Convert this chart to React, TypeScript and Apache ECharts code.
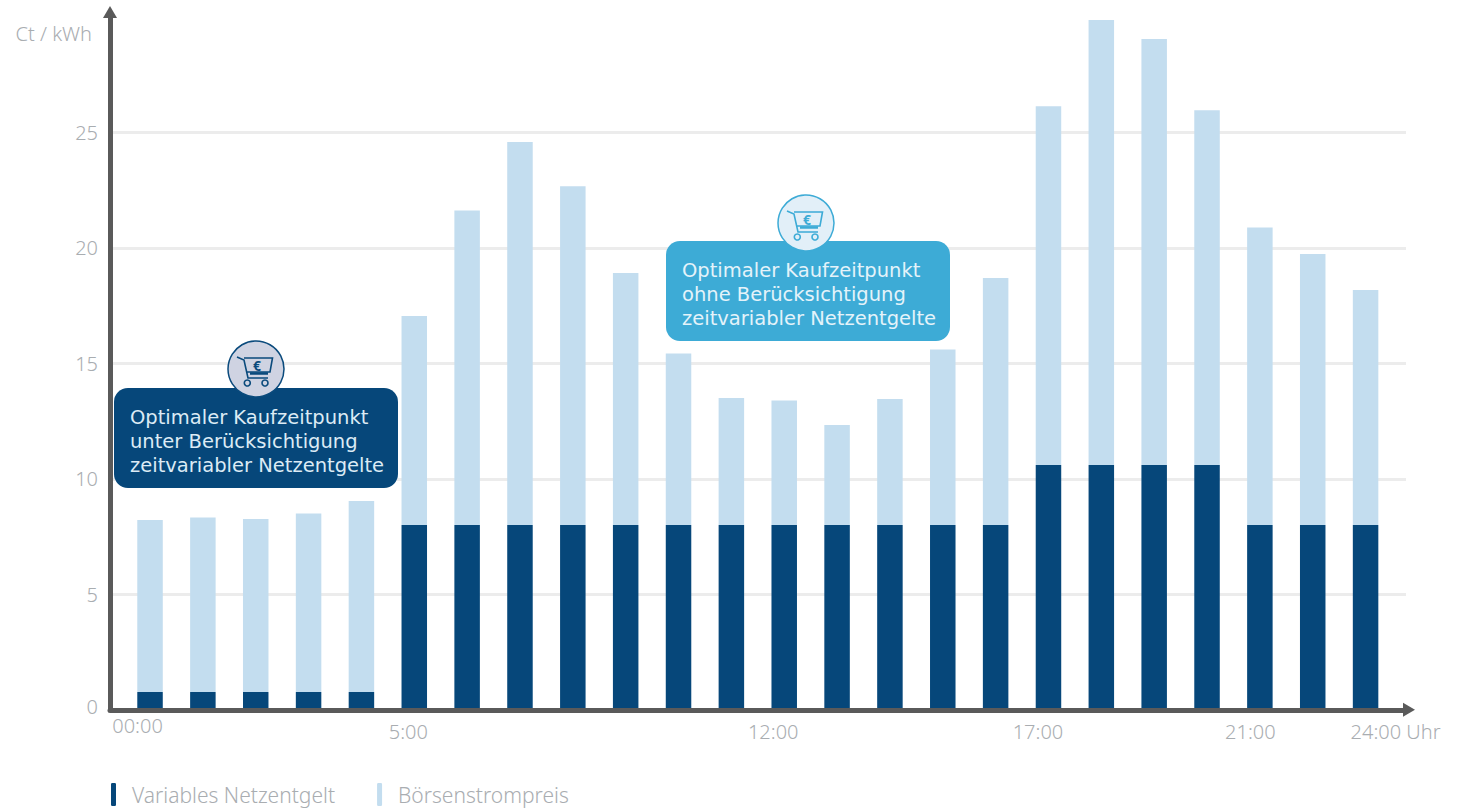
import React, { useEffect, useRef } from "react";
import * as echarts from "echarts";

const hours = ["00:00","","","","","5:00","","","","","","","12:00","","","","","17:00","","","","21:00","","24:00 Uhr"];
const netzentgelt = [0.77,0.77,0.77,0.77,0.77,8,8,8,8,8,8,8,8,8,8,8,8,10.6,10.6,10.6,10.6,8,8,8];
const boersenpreis = [7.45,7.56,7.49,7.73,8.27,9.05,13.62,16.59,14.67,10.91,7.43,5.5,5.39,4.33,5.46,7.6,10.7,15.54,19.27,18.45,15.36,12.89,11.74,10.18];
const seriesNames = ["Variables Netzentgelt", "Börsenstrompreis"];
const yAxisName = "Ct / kWh";
const calloutDark = ["Optimaler Kaufzeitpunkt", "unter Berücksichtigung", "zeitvariabler Netzentgelte"];
const calloutLight = ["Optimaler Kaufzeitpunkt", "ohne Berücksichtigung", "zeitvariabler Netzentgelte"];

const FONT = "Noto Sans";
const CALLOUT_FONT = "DejaVu Sans";
const GREY = "#a9adb1";
const DARK = "#06477a";
const LIGHT = "#c3ddef";
const CYAN = "#3dabd6";
const AXIS_SIZE = 20;

const labelOffsets: Record<string, { left: number; right: number; top: number }> = {
  a: { left: 0, right: 25, top: 0 },
  b: { left: 0, right: 12, top: 6 },
  c: { left: 0, right: 22, top: 6 },
  d: { left: 0, right: 21, top: 6 },
  e: { left: 0, right: 19, top: 6 },
  f: { left: 60, right: 0, top: 6 },
};
const labelKeys: Record<number, string> = { 0: "a", 5: "b", 12: "c", 17: "d", 21: "e", 23: "f" };

echarts.graphic.registerShape(
  "cartBody",
  echarts.graphic.extendPath(
    "M-19 -12 L-12 -9 L-8 9 L12 9 M-12 -11 L16.5 -11 L14 3 L-8.7 3",
    {}
  )
);

function callout(x: number, y: number, lines: string[], bg: string, textColor: string) {
  return {
    type: "group",
    x,
    y,
    children: [
      { type: "rect", z: 20, shape: { x: 0, y: 0, width: 284, height: 100, r: 14 }, style: { fill: bg } },
      {
        type: "text",
        z: 21,
        x: 16,
        y: 17,
        style: { text: lines.join("\n"), fill: textColor, font: `19.5px "${CALLOUT_FONT}"`, lineHeight: 24 },
      },
    ],
  };
}

function cart(x: number, y: number, fill: string, stroke: string) {
  const line = { stroke, fill: "none", lineWidth: 1.6 };
  return {
    type: "group",
    x,
    y,
    children: [
      { type: "circle", z: 22, shape: { cx: 0, cy: 0, r: 28 }, style: { fill, stroke, lineWidth: 1.5 } },
      { type: "cartBody", z: 23, style: line },
      { type: "line", z: 23, shape: { x1: -6, y1: 4.5, x2: 12, y2: 4.5 }, style: { stroke, lineWidth: 2.5 } },
      { type: "circle", z: 23, shape: { cx: -8.7, cy: 14, r: 3 }, style: line },
      { type: "circle", z: 23, shape: { cx: 9, cy: 14, r: 3 }, style: line },
      {
        type: "text",
        z: 23,
        x: 1,
        y: -4,
        style: { text: "€", fill: stroke, font: `bold 14px "${FONT}"`, textAlign: "center", textVerticalAlign: "middle", textBaseline: "middle" },
      },
    ],
  };
}

export default function App() {
  const ref = useRef<HTMLDivElement>(null);
  useEffect(() => {
    const chart = echarts.init(ref.current!, undefined, { renderer: "svg" });
    const rich: Record<string, any> = {};
    Object.keys(labelOffsets).forEach((k) => {
      const o = labelOffsets[k];
      rich[k] = {
        fontFamily: FONT,
        fontSize: AXIS_SIZE,
        fontWeight: 300,
        color: GREY,
        padding: [o.top, o.right, 0, o.left],
      };
    });
    chart.setOption({
      animation: false,
      backgroundColor: "#ffffff",
      textStyle: { fontFamily: FONT },
      grid: [
        { left: 123.6, right: 1463 - 1392, top: 17, bottom: 98.2 },
        { left: 110, right: 57, top: 17, bottom: 98.2 },
      ],
      legend: {
        show: true,
        left: 111,
        top: 783,
        padding: 0,
        icon: "roundRect",
        itemWidth: 5,
        itemHeight: 23,
        itemGap: 42,
        textStyle: { color: GREY, fontSize: 21, fontWeight: 300, fontFamily: FONT, padding: [2, 0, 0, 11] },
        data: seriesNames,
      },
      xAxis: [
        {
          type: "category",
          gridIndex: 0,
          data: hours,
          axisLine: { show: false },
          axisTick: { show: false },
          axisLabel: {
            interval: 0,
            margin: 6,
            hideOverlap: false,
            formatter: (v: string, i: number) => (labelKeys[i] ? `{${labelKeys[i]}|${v}}` : ""),
            rich,
          },
        },
        {
          type: "value",
          gridIndex: 1,
          min: 0,
          max: 1,
          z: 5,
          axisLabel: { show: false },
          axisTick: { show: false },
          splitLine: { show: false },
          axisLine: {
            show: true,
            symbol: ["none", "triangle"],
            symbolSize: [14, 12],
            symbolOffset: [0, 3],
            lineStyle: { color: "#5a5a5a", width: 5 },
          },
        },
      ],
      yAxis: [
        { type: "value", gridIndex: 0, min: 0, max: 30, interval: 5, show: false },
        {
          type: "value",
          gridIndex: 1,
          min: 0,
          max: 30,
          interval: 5,
          z: 1,
          name: yAxisName,
          nameLocation: "end",
          nameGap: -16,
          nameTextStyle: { color: GREY, fontSize: AXIS_SIZE, fontWeight: 300, fontFamily: FONT, align: "right", verticalAlign: "middle", padding: [0, 18, 0, 0] },
          axisLine: {
            show: true,
            symbol: ["none", "triangle"],
            symbolSize: [14, 12],
            symbolOffset: [0, 5],
            lineStyle: { color: "#5a5a5a", width: 5 },
          },
          axisTick: { show: false },
          axisLabel: {
            color: GREY,
            fontSize: AXIS_SIZE,
            fontWeight: 300,
            fontFamily: FONT,
            margin: 12,
            showMaxLabel: false,
            formatter: (v: number) => (v === 0 ? "{z|0}" : String(v)),
            rich: { z: { color: GREY, fontSize: AXIS_SIZE, fontWeight: 300, fontFamily: FONT, padding: [0, 0, 6, 0] } },
          },
          splitLine: { show: true, showMaxLine: false, showMinLine: false, lineStyle: { color: "#ececec", width: 3 } },
        },
      ],
      series: [
        { name: seriesNames[0], type: "bar", stack: "total", xAxisIndex: 0, yAxisIndex: 0, barWidth: 25.5, data: netzentgelt, itemStyle: { color: DARK } },
        { name: seriesNames[1], type: "bar", stack: "total", xAxisIndex: 0, yAxisIndex: 0, barWidth: 25.5, data: boersenpreis, itemStyle: { color: LIGHT } },
      ],
      graphic: [
        callout(114, 388, calloutDark, DARK, "#dcebf5"),
        cart(256, 369, "#cfd3e2", "#0a4a7c"),
        callout(666, 241, calloutLight, CYAN, "#e4f3fa"),
        cart(806, 223, "#e2eff8", CYAN),
      ],
    });
    return () => chart.dispose();
  }, []);
  return <div ref={ref} style={{ position: "fixed", left: 0, top: 0, width: 1463, height: 808 }} />;
}
